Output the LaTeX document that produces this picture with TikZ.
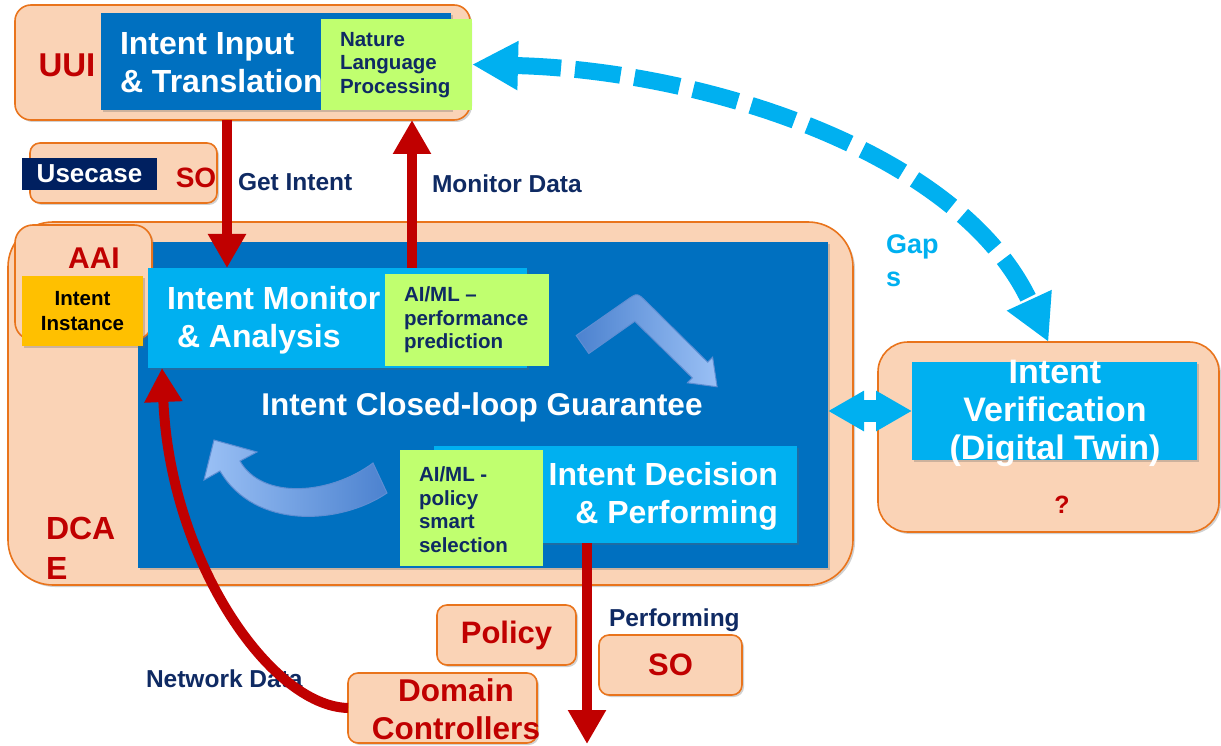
\documentclass[tikz,border=0pt]{standalone}
\usepackage{fontspec}
\setmainfont{Liberation Sans}
\usepackage{xcolor}
\definecolor{peach}{HTML}{FAD3B6}
\definecolor{peachLine}{HTML}{E9741C}
\definecolor{deepBlue}{HTML}{0070C0}
\definecolor{skyBlue}{HTML}{00B0F0}
\definecolor{limeGreen}{HTML}{C0FF6F}
\definecolor{navyText}{HTML}{0F2A63}
\definecolor{navyBox}{HTML}{002060}
\definecolor{darkRed}{HTML}{C00000}
\definecolor{amber}{HTML}{FFC000}
\definecolor{loopDark}{HTML}{4C82CF}
\definecolor{loopLight}{HTML}{9AC0F5}
\definecolor{loopEdge}{HTML}{5E8ED3}
\usepackage{tikz}
\usetikzlibrary{arrows.meta,shadows}
\newcommand{\bfsz}[2]{\fontsize{#1}{#2}\selectfont\bfseries}

\begin{document}
\begin{tikzpicture}[x=1pt, y=-1pt,
    every node/.style={inner sep=0pt, outer sep=0pt},
    softshadow/.style={drop shadow={shadow xshift=2pt, shadow yshift=-2pt,
                       opacity=0.3, fill=black!60}},
    peachbox/.style={draw=peachLine, fill=peach, line width=1.6pt,
                     rounded corners=16pt, softshadow},
    darkblk/.style={fill=deepBlue, softshadow},
    lightblk/.style={fill=skyBlue, softshadow},
    aibox/.style={fill=limeGreen},
    boxtitle/.style={text=white, align=left, font=\bfsz{32}{38}},
    aitxt/.style={text=navyText, align=left, font=\bfsz{20.5}{23.5}},
    redtxt/.style={text=darkRed, font=\bfsz{31}{37}},
    lbl/.style={text=navyText, font=\bfsz{24.5}{28}},
    redarr/.style={draw=darkRed, line width=10pt,
                   -{Triangle[length=34pt,width=36pt]}},
    bluedbl/.style={draw=skyBlue, line width=22pt,
                    {Triangle[length=36pt,width=38pt]}-{Triangle[length=36pt,width=38pt]}},
    gaparr/.style={draw=skyBlue, line width=17pt, dash pattern=on 46pt off 14pt,
                   {Triangle[length=46pt,width=46pt]}-{Triangle[length=46pt,width=46pt]}},
    loopturn/.style={draw=loopEdge, line width=1pt}]
  \useasboundingbox (0,0) rectangle (1221,746);

  % UUI
  \node[peachbox, minimum width=455pt, minimum height=115pt] (uui) at (242.5,62.5) {};
  \node[darkblk, minimum width=350pt, minimum height=97pt] (txtIn) at (276,61.5) {};
  \node[redtxt, font=\bfsz{33}{40}] (uuiTxt) at (67,65) {UUI};
  \node[boxtitle, anchor=west] (inTxt) at (120,63) {Intent Input\\\& Translation};
  \node[aibox, minimum width=151pt, minimum height=91pt] (nlp) at (396.5,64.5) {};
  \node[aitxt, anchor=west] (nlpTxt) at (340,65) {Nature\\Language\\Processing};

  % Usecase / SO
  \node[peachbox, rounded corners=10pt, minimum width=187pt, minimum height=60pt] (ucase) at (123.5,173) {};
  \node[fill=navyBox, text=white, minimum width=135pt, minimum height=32pt,
        font=\bfsz{26}{30}] (ucTag) at (89.5,174) {Usecase};
  \node[redtxt, font=\bfsz{28}{32}] (ucSO) at (196,178) {SO};
  \node[lbl, anchor=west] (getLbl) at (238,182) {Get Intent};
  \node[lbl, anchor=west] (monLbl) at (432,184) {Monitor Data};

  % DCAE
  \node[peachbox, rounded corners=45pt, minimum width=845pt, minimum height=363pt] (dcae) at (430.5,403.5) {};
  \node[darkblk, minimum width=690pt, minimum height=326pt] (loop) at (483,405) {};
  \node[peachbox, rounded corners=18pt, minimum width=137pt, minimum height=115pt] (aai) at (83.5,282.5) {};
  \node[redtxt, font=\bfsz{30}{34}] (aaiTxt) at (94,258) {AAI};
  \node[fill=amber, minimum width=121pt, minimum height=70pt, align=center,
        font=\bfsz{20.5}{25}, softshadow] (inst) at (82.5,311) {Intent\\Instance};
  \node[lightblk, minimum width=379pt, minimum height=100pt] (monitor) at (337.5,318) {};
  \node[boxtitle, anchor=west] (monTxt) at (167,320) {Intent Monitor\\\hspace*{10pt}\& Analysis};
  \node[aibox, minimum width=164pt, minimum height=92pt] (aiPerf) at (467,320) {};
  \node[aitxt, anchor=west] (perfTxt) at (404,320) {AI/ML –\\performance\\prediction};
  \node[text=white, font=\bfsz{31.5}{36}] (loopTxt) at (482,407) {Intent Closed-loop Guarantee};
  \node[lightblk, minimum width=363pt, minimum height=97pt] (decide) at (615.5,494.5) {};
  \node[boxtitle, anchor=east, align=right] (decTxt) at (778,496) {Intent Decision\\\& Performing};
  \node[aibox, minimum width=143pt, minimum height=116pt] (aiPol) at (471.5,508) {};
  \node[aitxt, anchor=west] (polTxt) at (419,509.5) {AI/ML -\\policy\\smart\\selection};
  \node[redtxt, anchor=west, align=left, font=\bfsz{32}{40}] (dcaeTxt) at (46,548) {DCA\\E};

  % closed-loop turns
  \shadedraw[loopturn, left color=loopDark, right color=loopLight]
    (588.8,353.5) -- (576.2,335.5) -- (626.6,300.2) .. controls (637.2,292.7) .. (646.5,301.8)
    -- (707.7,362.2) -- (712.6,357.2) -- (717.1,386.8) -- (687.4,382.8) -- (692.3,377.8)
    -- (634.8,321.3) -- cycle;
  \shadedraw[loopturn, left color=loopLight, right color=loopDark]
    (387,493) .. controls (340,525) and (255,530) .. (220,471) -- (204,480) -- (214,440)
    -- (257,452) -- (240,461) .. controls (262,500) and (330,495) .. (373,463) -- cycle;

  % southbound
  \node[peachbox, rounded corners=10pt, minimum width=139pt, minimum height=60pt,
        text=darkRed, font=\bfsz{31}{37}] (policy) at (506.5,635) {Policy};
  \node[peachbox, rounded corners=10pt, minimum width=143pt, minimum height=60pt,
        text=darkRed, font=\bfsz{31}{37}] (so) at (670.5,665) {SO};
  \node[lbl, anchor=west] (perfLbl) at (609,620) {Performing};
  \node[lbl, anchor=west] (netLbl) at (146,679) {Network Data};
  \node[peachbox, rounded corners=10pt, minimum width=189pt, minimum height=70pt] (dc) at (442.5,708) {};
  \node[redtxt, align=center, font=\bfsz{31.5}{38}] (dcTxt) at (456,709) {Domain\\Controllers};
  \draw[redarr] (dc.west) .. controls (270,706) and (170,560) .. ([xshift=-175.5pt]monitor.south);
  \coordinate (perfEnd) at (587,744);

  % verification
  \node[peachbox, rounded corners=30pt, minimum width=341pt, minimum height=190pt] (verif) at (1048.5,437) {};
  \node[lightblk, minimum width=285pt, minimum height=98pt] (vbox) at (1054.5,411) {};
  \node[text=white, align=center, font=\bfsz{34}{38}] (vTxt) at (1055,413) {Intent\\Verification\\(Digital Twin)};
  \node[redtxt, font=\bfsz{25}{30}] (qTxt) at (1062,505) {?};
  \node[text=skyBlue, anchor=west, align=left, font=\bfsz{27}{33}] (gapTxt) at (886,261) {Gap\\s};

  \draw[redarr] ([xshift=-15.5pt]uui.south) -- ([xshift=-110.5pt]monitor.north);
  \draw[redarr] ([xshift=74.5pt]monitor.north) -- ([xshift=169.5pt]uui.south);
  \draw[redarr] ([xshift=-28.5pt]decide.south) -- (perfEnd);
  \draw[bluedbl] (vbox.west -| loop.east) -- (vbox.west);
  \draw[gaparr] (nlp.east) .. controls (700,70) and (960,150) .. (verif.north);
\end{tikzpicture}
\end{document}
